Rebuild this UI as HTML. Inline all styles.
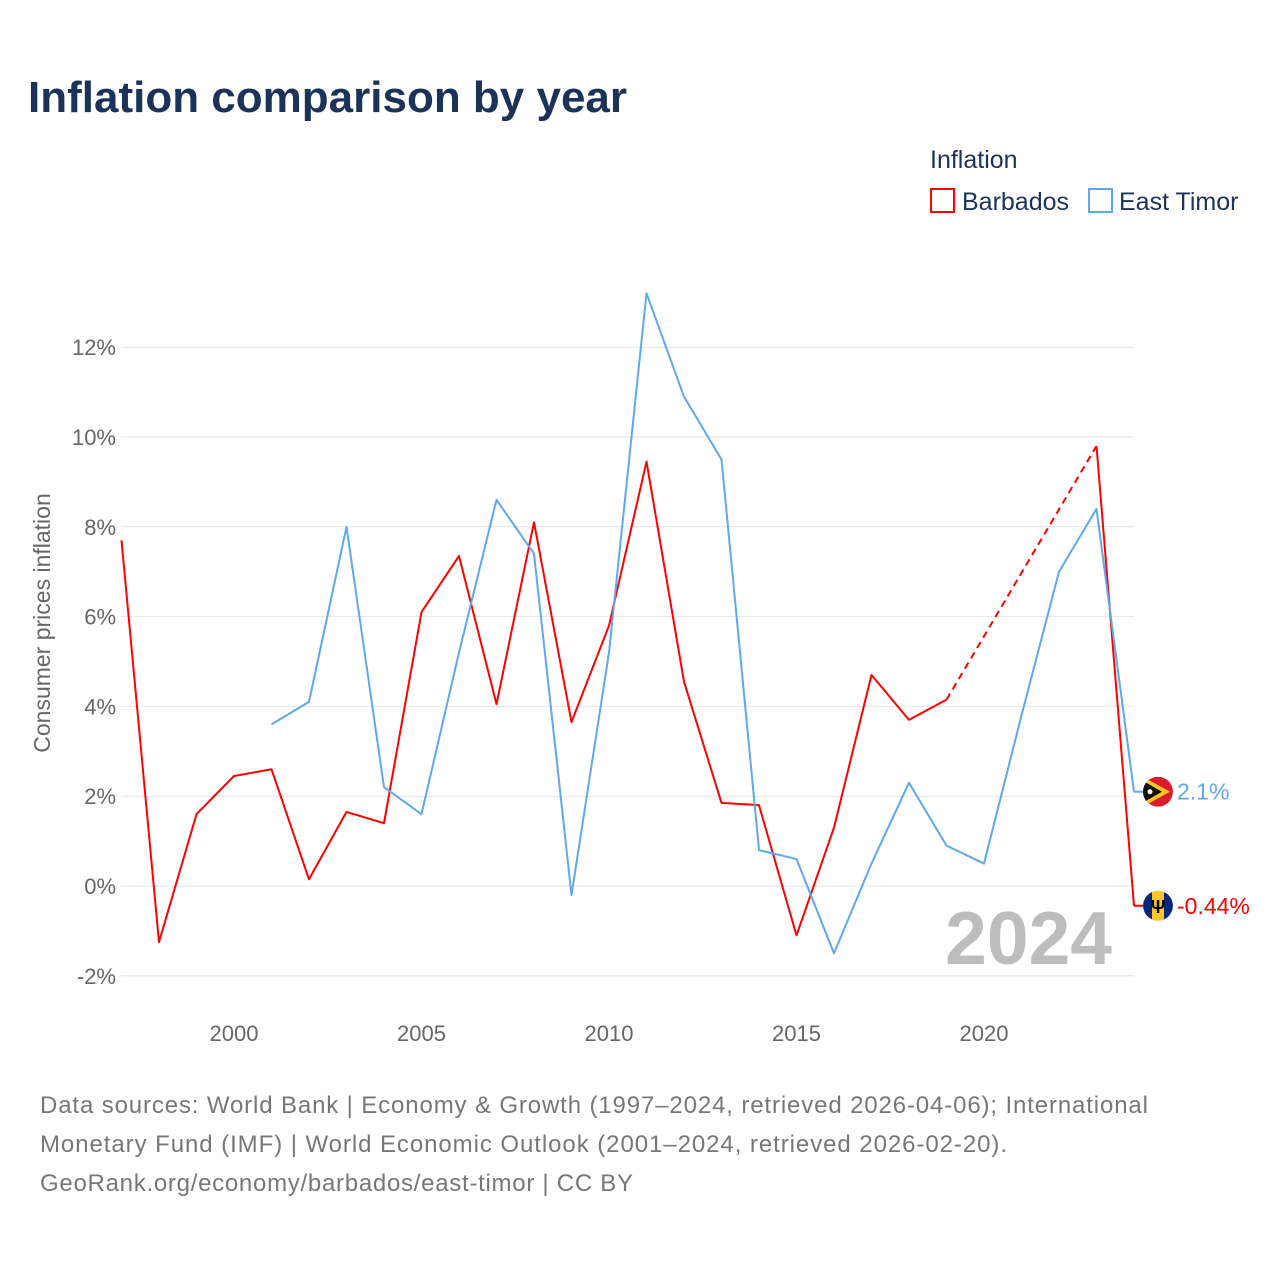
<!DOCTYPE html>
<html><head><meta charset="utf-8">
<style>
body{margin:0;background:#fff;font-family:"Liberation Sans",sans-serif;}
</style></head>
<body>
<svg id="chart" width="1280" height="1280" xmlns="http://www.w3.org/2000/svg" style="display:block">
<defs>
<clipPath id="c1"><circle id="c1c" cx="1158" cy="0" r="15"/></clipPath>
<clipPath id="c2"><circle id="c2c" cx="1158" cy="0" r="15"/></clipPath>
</defs>
<text x="28" y="112" font-size="44" font-weight="bold" fill="#1b3358">Inflation comparison by year</text>
<text x="930" y="168" font-size="25" fill="#1b3358">Inflation</text>
<g>
<rect x="931" y="189" width="23" height="23" fill="none" stroke="#ff0000" stroke-width="2"/>
<text x="962" y="210" font-size="25" fill="#1b3358">Barbados</text></g>
<g>
<rect x="1089" y="189" width="23" height="23" fill="none" stroke="#5ea8ec" stroke-width="2"/>
<text x="1119" y="210" font-size="25" fill="#1b3358">East Timor</text></g>
<text transform="translate(50,623) rotate(-90)" text-anchor="middle" font-size="23" fill="#666">Consumer prices inflation</text>
<g id="grid"></g><g id="series"></g>
<text x="1112" y="964" text-anchor="end" font-size="75" font-weight="bold" fill="#bdbdbd">2024</text>
<text font-size="24" fill="#777">
<tspan x="40" y="1113" textLength="1108" lengthAdjust="spacing">Data sources: World Bank | Economy &amp; Growth (1997–2024, retrieved 2026-04-06); International</tspan>
<tspan x="40" y="1152" textLength="967" lengthAdjust="spacing">Monetary Fund (IMF) | World Economic Outlook (2001–2024, retrieved 2026-02-20).</tspan>
<tspan x="40" y="1191" textLength="593" lengthAdjust="spacing">GeoRank.org/economy/barbados/east-timor | CC BY</tspan></text>
</svg>
<script>
const years=[1997,1998,1999,2000,2001,2002,2003,2004,2005,2006,2007,2008,2009,2010,2011,2012,2013,2014,2015,2016,2017,2018,2019,2020,2021,2022,2023,2024];
const barbados=[7.7,-1.25,1.6,2.45,2.6,0.15,1.65,1.4,6.1,7.35,4.05,8.1,3.65,5.8,9.45,4.55,1.85,1.8,-1.1,1.3,4.7,3.7,4.15,null,null,null,9.8,-0.44];
const timor=[null,null,null,null,3.6,4.1,8.0,2.2,1.6,5.2,8.6,7.4,-0.2,5.2,13.2,10.9,9.5,0.8,0.6,-1.5,0.5,2.3,0.9,0.5,3.8,7.0,8.4,2.1];
const yTicks=[-2,0,2,4,6,8,10,12];
const xTicks=[2000,2005,2010,2015,2020];
const NS="http://www.w3.org/2000/svg";
const X=y=>121.5+(y-1997)*37.5;
const Y=v=>886-v*44.9;
function mk(t,a,p){const e=document.createElementNS(NS,t);for(const k in a)e.setAttribute(k,a[k]);p.appendChild(e);return e;}
const grid=document.getElementById('grid'),ser=document.getElementById('series');
yTicks.forEach(v=>{
 const l=mk('line',{x1:121,x2:1134,y1:Y(v),y2:Y(v),stroke:'#e6e6e6','stroke-width':1},grid);
 
 
 const t=mk('text',{x:116,y:Y(v)+8,'text-anchor':'end','font-size':22,fill:'#666'},grid);
 t.textContent=v+'%';
 
 
});
xTicks.forEach(v=>{
 const t=mk('text',{x:X(v),y:1041,'text-anchor':'middle','font-size':22,fill:'#666'},grid);
 t.textContent=v;
 
 
});
function draw(vals,color,name){
 let segs=[],cur=[],lastPt=null;
 vals.forEach((v,i)=>{
  if(v===null){if(cur.length){segs.push(cur);cur=[];}return;}
  const p=[X(years[i]),Y(v)];
  if(!cur.length&&lastPt&&i>0&&vals[i-1]===null){
   const d=mk('path',{d:`M${lastPt[0]},${lastPt[1]}L${p[0]},${p[1]}`,fill:'none',stroke:color,'stroke-width':2,'stroke-dasharray':'7,5'},ser);
   
   
  }
  cur.push(p);lastPt=p;
 });
 if(cur.length)segs.push(cur);
 segs.forEach(s=>{
  const d=mk('path',{d:'M'+s.map(p=>p.join(',')).join('L'),fill:'none',stroke:color,'stroke-width':2,'stroke-linejoin':'round'},ser);
  
  
 });
 const lv=vals[vals.length-1],ly=Y(lv);
 const h=mk('path',{d:`M${X(2024)},${ly}H1146`,stroke:color,'stroke-width':2},ser);
 
 
 return ly;
}
const yb=draw(barbados,'#ff0000','barbados');
const yt=draw(timor,'#5ea8ec','east-timor');
document.getElementById('c1c').setAttribute('cy',yt);
document.getElementById('c2c').setAttribute('cy',yb);
let g=mk('g',{'clip-path':'url(#c1)'},ser);


mk('circle',{cx:1158,cy:yt,r:15,fill:'#dc1b2c'},g);
mk('path',{d:`M1141,${yt-16}L1170,${yt}L1141,${yt+16}Z`,fill:'#ffc726'},g);
mk('path',{d:`M1141,${yt-12}L1162,${yt}L1141,${yt+12}Z`,fill:'#111'},g);
mk('circle',{cx:1150,cy:yt,r:2.5,fill:'#fff'},g);
g=mk('g',{'clip-path':'url(#c2)'},ser);


mk('circle',{cx:1158,cy:yb,r:15,fill:'#00267f'},g);
mk('rect',{x:1152,y:yb-15,width:12,height:30,fill:'#ffc726'},g);
const tr=mk('text',{x:1158,y:yb+7,'text-anchor':'middle','font-size':18,'font-weight':'bold',fill:'#000'},g);tr.textContent='Ψ';
let t=mk('text',{x:1177,y:yt+8,'font-size':23,fill:'#5ea8ec'},ser);t.textContent='2.1%';


t=mk('text',{x:1177,y:yb+8,'font-size':23,fill:'#ff0000'},ser);t.textContent='-0.44%';


</script>
</body></html>
